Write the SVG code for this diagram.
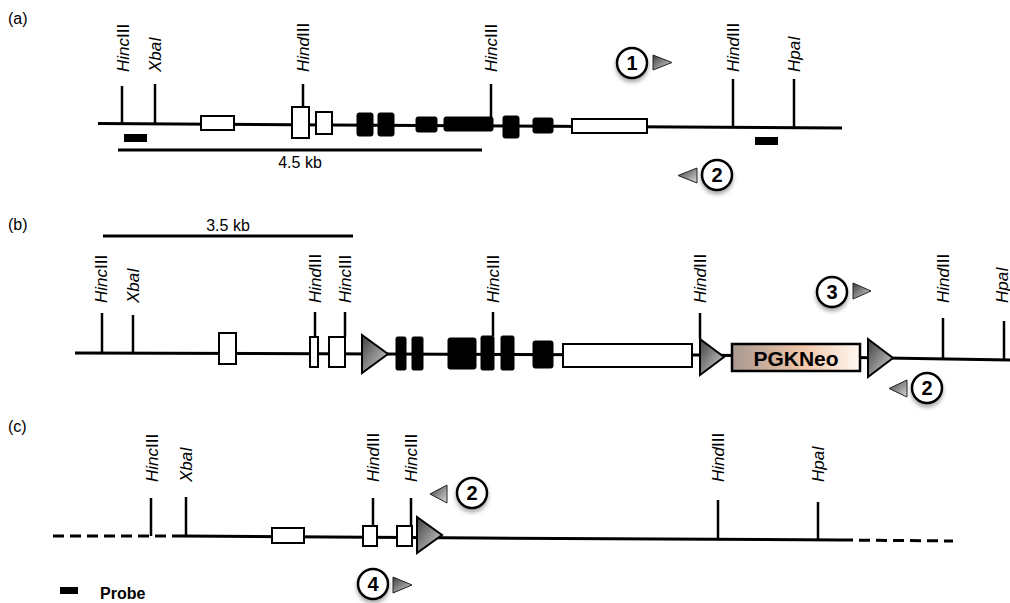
<svg xmlns="http://www.w3.org/2000/svg" width="1010" height="603" viewBox="0 0 1010 603">
<defs>
<linearGradient id="triG" x1="0" y1="0" x2="1" y2="1">
<stop offset="0" stop-color="#3f3f3f"/>
<stop offset="1" stop-color="#d8d8d8"/>
</linearGradient>
<linearGradient id="neoG" x1="0" y1="0" x2="1" y2="0">
<stop offset="0" stop-color="#a8988f"/>
<stop offset="0.55" stop-color="#f0c6a8"/>
<stop offset="1" stop-color="#fff8f2"/>
</linearGradient>
<filter id="shadow" x="-50%" y="-50%" width="200%" height="200%">
<feDropShadow dx="0" dy="3" stdDeviation="2" flood-color="#000" flood-opacity="0.35"/>
</filter>
<style>
.t{font-family:"Liberation Sans",Arial,sans-serif;fill:#000}
.lab{font-size:16px}
.enz{font-size:17px}
.it{font-style:italic}
.num{font-size:20px;font-weight:bold;text-anchor:middle}
.line{stroke:#000;stroke-width:3;fill:none}
.tick{stroke:#000;stroke-width:2.5;fill:none}
.dash{stroke:#000;stroke-width:3;fill:none;stroke-dasharray:11 6}
.wx{fill:#fff;stroke:#000;stroke-width:2}
.bx{fill:#000;stroke:#000;stroke-width:1}
.tri{fill:url(#triG);stroke:#000;stroke-width:2;stroke-linejoin:miter}
.ptri{fill:url(#triG);stroke:#222;stroke-width:1}
.circ{fill:#fff;stroke:#000;stroke-width:2.5;filter:url(#shadow)}
.probe{fill:#000}
</style>
</defs>

<!-- panel labels -->
<g id="panel-labels">
<text class="t lab" x="8" y="24">(a)</text>
<text class="t lab" x="8" y="230">(b)</text>
<text class="t lab" x="8" y="432">(c)</text>
</g>

<g id="connectors">
<!-- (a) -->
<polyline class="line" points="98,123.5 330,125 842,128"/>
<line class="line" x1="118" y1="150" x2="482" y2="150"/>
<!-- (b) -->
<line class="line" x1="103" y1="236" x2="353" y2="236"/>
<polyline class="line" points="75,353 700,355 1010,360"/>
<!-- (c) -->
<line class="dash" x1="53" y1="536" x2="182" y2="536"/>
<polyline class="line" points="182,536 480,538 842,540"/>
<line class="dash" x1="842" y1="540" x2="953" y2="541"/>
</g>

<!-- ============ (a) ============ -->
<g id="a-sites">
<line class="tick" x1="122" y1="86" x2="122" y2="124"/>
<line class="tick" x1="155" y1="84" x2="155" y2="124"/>
<line class="tick" x1="303" y1="84" x2="303" y2="108"/>
<line class="tick" x1="491" y1="84" x2="491" y2="118"/>
<line class="tick" x1="733" y1="79" x2="733" y2="127"/>
<line class="tick" x1="794" y1="79" x2="794" y2="128"/>
<text class="t enz" transform="translate(129,72) rotate(-90)"><tspan class="it">Hinc</tspan>III</text>
<text class="t enz it" transform="translate(161,72) rotate(-90)">XbaI</text>
<text class="t enz" transform="translate(309,72) rotate(-90)"><tspan class="it">Hind</tspan>III</text>
<text class="t enz" transform="translate(497,72) rotate(-90)"><tspan class="it">Hinc</tspan>III</text>
<text class="t enz" transform="translate(739,72) rotate(-90)"><tspan class="it">Hind</tspan>III</text>
<text class="t enz it" transform="translate(800,72) rotate(-90)">HpaI</text>
</g>
<g id="a-exons">
<rect class="wx" x="201" y="116" width="33" height="14"/>
<rect class="wx" x="292" y="107" width="17" height="31"/>
<rect class="wx" x="316" y="112" width="16" height="22"/>
<rect class="bx" x="357" y="113" width="16" height="23" rx="2"/>
<rect class="bx" x="378" y="113" width="16" height="23" rx="2"/>
<rect class="bx" x="416" y="117" width="21" height="15" rx="2"/>
<rect class="bx" x="444" y="117" width="49" height="14" rx="2"/>
<rect class="bx" x="503" y="116" width="16" height="22" rx="2"/>
<rect class="bx" x="533" y="118" width="20" height="15" rx="2"/>
<rect class="wx" x="572" y="119" width="75" height="14"/>
</g>
<g id="a-probes">
<rect class="probe" x="124" y="134" width="23" height="8"/>
<rect class="probe" x="755" y="137" width="23" height="8"/>
</g>
<g id="a-scale">
<text class="t lab" x="300" y="168" text-anchor="middle">4.5 kb</text>
</g>
<g id="a-primer1">
<circle class="circ" cx="632" cy="63" r="15"/>
<text class="t num" x="632" y="70">1</text>
<polygon class="ptri" points="653,55 672,62.5 653,70"/>
</g>
<g id="a-primer2">
<circle class="circ" cx="717" cy="175" r="15"/>
<text class="t num" x="717" y="182">2</text>
<polygon class="ptri" points="697,168 678,175.5 697,183"/>
</g>

<!-- ============ (b) ============ -->
<g id="b-scale">
<text class="t lab" x="228" y="231" text-anchor="middle">3.5 kb</text>
</g>
<g id="b-sites">
<line class="tick" x1="102" y1="313" x2="102" y2="353"/>
<line class="tick" x1="133" y1="315" x2="133" y2="353"/>
<line class="tick" x1="315" y1="312" x2="315" y2="337"/>
<line class="tick" x1="345" y1="312" x2="345" y2="337"/>
<line class="tick" x1="493" y1="312" x2="493" y2="336"/>
<line class="tick" x1="700" y1="313" x2="700" y2="339"/>
<line class="tick" x1="943" y1="318" x2="943" y2="358"/>
<line class="tick" x1="1004" y1="321" x2="1004" y2="360"/>
<text class="t enz" transform="translate(107,303) rotate(-90)"><tspan class="it">Hinc</tspan>III</text>
<text class="t enz it" transform="translate(139,303) rotate(-90)">XbaI</text>
<text class="t enz" transform="translate(321,303) rotate(-90)"><tspan class="it">Hind</tspan>III</text>
<text class="t enz" transform="translate(351,303) rotate(-90)"><tspan class="it">Hinc</tspan>III</text>
<text class="t enz" transform="translate(499,303) rotate(-90)"><tspan class="it">Hinc</tspan>III</text>
<text class="t enz" transform="translate(706,303) rotate(-90)"><tspan class="it">Hind</tspan>III</text>
<text class="t enz" transform="translate(949,303) rotate(-90)"><tspan class="it">Hind</tspan>III</text>
<text class="t enz it" transform="translate(1008,303) rotate(-90)">HpaI</text>
</g>
<g id="b-exons">
<rect class="wx" x="219" y="333" width="17" height="31"/>
<rect class="wx" x="310" y="337" width="8" height="30"/>
<rect class="wx" x="329" y="337" width="16" height="30"/>
<rect class="bx" x="396" y="337" width="10" height="33" rx="1.5"/>
<rect class="bx" x="412" y="337" width="11" height="33" rx="1.5"/>
<rect class="bx" x="448" y="338" width="28" height="31" rx="2"/>
<rect class="bx" x="481" y="336" width="13" height="34" rx="1.5"/>
<rect class="bx" x="501" y="336" width="13" height="34" rx="1.5"/>
<rect class="bx" x="533" y="341" width="20" height="27" rx="2"/>
<rect class="wx" x="563" y="344" width="129" height="23"/>
</g>
<g id="b-loxp">
<polygon class="tri" points="362,335 388,354 362,373"/>
<polygon class="tri" points="700,339 724,357 700,375"/>
<polygon class="tri" points="868,339 893,358 868,377"/>
</g>
<g id="b-pgkneo">
<rect x="732" y="344" width="128" height="27" fill="url(#neoG)" stroke="#000" stroke-width="2.5"/>
<text class="t" x="796" y="366" text-anchor="middle" font-size="21" font-weight="bold">PGKNeo</text>
</g>
<g id="b-primer3">
<circle class="circ" cx="832" cy="292" r="15"/>
<text class="t num" x="832" y="299">3</text>
<polygon class="ptri" points="853,283 871,291 853,299"/>
</g>
<g id="b-primer2">
<circle class="circ" cx="927" cy="388" r="15"/>
<text class="t num" x="927" y="395">2</text>
<polygon class="ptri" points="907,380 889,388.5 907,397"/>
</g>

<!-- ============ (c) ============ -->
<g id="c-sites">
<line class="tick" x1="151" y1="498" x2="151" y2="536"/>
<line class="tick" x1="186" y1="497" x2="186" y2="536"/>
<line class="tick" x1="373" y1="498" x2="373" y2="526"/>
<line class="tick" x1="411" y1="498" x2="411" y2="526"/>
<line class="tick" x1="718" y1="500" x2="718" y2="540"/>
<line class="tick" x1="818" y1="502" x2="818" y2="541"/>
<text class="t enz" transform="translate(158,482) rotate(-90)"><tspan class="it">Hinc</tspan>III</text>
<text class="t enz it" transform="translate(192,482) rotate(-90)">XbaI</text>
<text class="t enz" transform="translate(379,482) rotate(-90)"><tspan class="it">Hind</tspan>III</text>
<text class="t enz" transform="translate(417,482) rotate(-90)"><tspan class="it">Hinc</tspan>III</text>
<text class="t enz" transform="translate(724,482) rotate(-90)"><tspan class="it">Hind</tspan>III</text>
<text class="t enz it" transform="translate(824,482) rotate(-90)">HpaI</text>
</g>
<g id="c-exons">
<rect class="wx" x="272" y="528" width="32" height="15"/>
<rect class="wx" x="363" y="526" width="14" height="20"/>
<rect class="wx" x="397" y="526" width="15" height="20"/>
</g>
<g id="c-loxp">
<polygon class="tri" points="417,517 442,535 417,553"/>
</g>
<g id="c-primer2">
<circle class="circ" cx="472" cy="493" r="15"/>
<text class="t num" x="472" y="500">2</text>
<polygon class="ptri" points="447,485 430,494 447,503"/>
</g>
<g id="c-primer4">
<circle class="circ" cx="373" cy="584" r="15"/>
<text class="t num" x="373" y="591">4</text>
<polygon class="ptri" points="393,577 412,585 393,593"/>
</g>

<!-- legend -->
<g id="legend">
<rect class="probe" x="60" y="587" width="18" height="7"/>
<text class="t" x="100" y="599" font-size="16" font-weight="bold">Probe</text>
</g>
</svg>
